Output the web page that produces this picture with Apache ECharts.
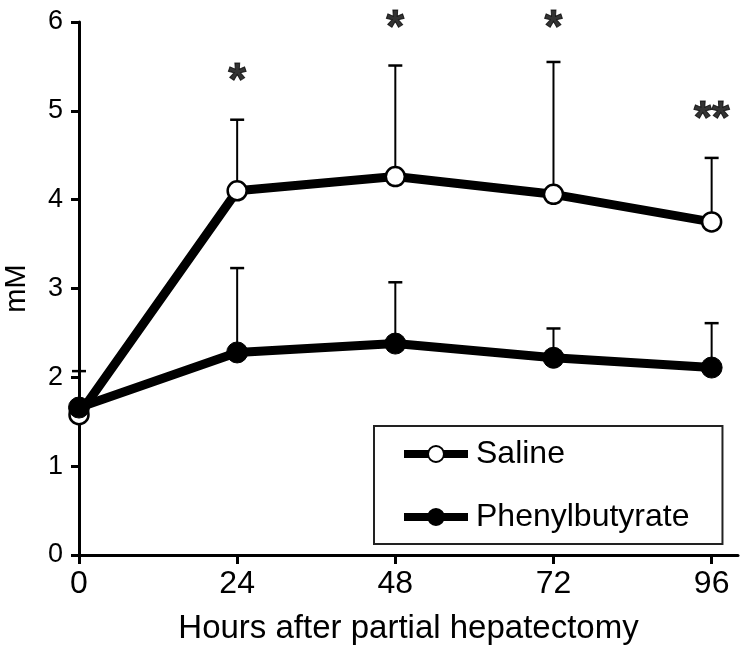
<!DOCTYPE html>
<html><head><meta charset="utf-8">
<script src="https://cdn.jsdelivr.net/npm/echarts@6/dist/echarts.min.js"></script>
<style>html,body{margin:0;padding:0;background:#fff}#c{width:741px;height:650px}</style>
</head><body><div id="c"></div>
<script>
const hours = [0, 24, 48, 72, 96];
const salineMean = [1.58, 4.10, 4.26, 4.06, 3.75];
const salineUpper = [2.07, 4.90, 5.51, 5.55, 4.47];
const phenylMean = [1.66, 2.28, 2.38, 2.22, 2.11];
const phenylUpper = [1.70, 3.23, 3.07, 2.55, 2.61];
const sigHours = [24, 48, 72, 96];
const sigY = [5.32, 5.92, 5.92, 4.89];
const sigText = ['*', '*', '*', '**'];
const xTicks = [0, 24, 48, 72, 96];

const FONT = 'Liberation Sans, Arial, sans-serif';
const chart = echarts.init(document.getElementById('c'));

function errSeries(name, mean, upper) {
  return {
    type: 'custom', name: name + ' err', z: 1, silent: true, clip: false,
    data: hours.map((h, i) => [h, mean[i], upper[i]]),
    renderItem: function (params, api) {
      const p0 = api.coord([api.value(0), api.value(1)]);
      const p1 = api.coord([api.value(0), api.value(2)]);
      const cw = 7;
      return { type: 'group', children: [
        { type: 'line', shape: { x1: p0[0], y1: p0[1], x2: p1[0], y2: p1[1] }, style: { stroke: '#000', lineWidth: 2 } },
        { type: 'line', shape: { x1: p1[0] - cw, y1: p1[1], x2: p1[0] + cw, y2: p1[1] }, style: { stroke: '#000', lineWidth: 2.5 } }
      ]};
    }
  };
}

chart.setOption({
  animation: false,
  backgroundColor: '#fff',
  grid: { left: 79, right: 3, top: 22, bottom: 95, containLabel: false, outerBoundsMode: 'none' },
  xAxis: {
    type: 'value', min: 0, max: 100, interval: 24,
    name: 'Hours after partial hepatectomy', nameLocation: 'middle', nameGap: 57,
    nameTextStyle: { fontFamily: FONT, fontSize: 33, color: '#000', verticalAlign: 'top' },
    axisLine: { show: true, lineStyle: { color: '#000', width: 3 } },
    axisTick: { show: true, length: 9, lineStyle: { color: '#000', width: 3 }, customValues: xTicks },
    axisLabel: { fontFamily: FONT, fontSize: 32, color: '#000', margin: 13, customValues: xTicks },
    splitLine: { show: false }
  },
  yAxis: {
    type: 'value', min: 0, max: 6, interval: 1,
    name: 'mM', nameLocation: 'middle', nameGap: 48,
    nameTextStyle: { fontFamily: FONT, fontSize: 29, color: '#000' },
    axisLine: { show: true, lineStyle: { color: '#000', width: 3 } },
    axisTick: { show: true, length: 8, lineStyle: { color: '#000', width: 3 } },
    axisLabel: { fontFamily: FONT, fontSize: 27, color: '#000', margin: 16 },
    splitLine: { show: false }
  },
  legend: {
    orient: 'vertical', left: 374, top: 426,
    padding: [12, 33, 11, 26],
    itemGap: 31,
    itemWidth: 64, itemHeight: 20,
    borderColor: '#222', borderWidth: 2,
    lineStyle: { width: 8, color: '#000' },
    textStyle: { fontFamily: FONT, fontSize: 32, color: '#000', padding: [0, 0, 0, 3] },
    data: ['Saline', 'Phenylbutyrate']
  },
  series: [
    errSeries('Saline', salineMean, salineUpper),
    errSeries('Phenylbutyrate', phenylMean, phenylUpper),
    {
      name: 'Saline', type: 'line', z: 3,
      data: hours.map((h, i) => [h, salineMean[i]]),
      symbol: 'circle', symbolSize: 19,
      lineStyle: { color: '#000', width: 9 },
      itemStyle: { color: '#fff', borderColor: '#000', borderWidth: 2.5 }
    },
    {
      name: 'Phenylbutyrate', type: 'line', z: 4,
      data: hours.map((h, i) => [h, phenylMean[i]]),
      symbol: 'circle', symbolSize: 21,
      lineStyle: { color: '#000', width: 9 },
      itemStyle: { color: '#000', borderColor: '#000', borderWidth: 1 }
    },
    {
      name: 'sig', type: 'scatter', z: 5, silent: true, clip: false,
      symbolSize: 0,
      data: sigHours.map((h, i) => [h, sigY[i], sigText[i]]),
      label: {
        show: true, position: 'inside',
        formatter: p => p.data[2],
        fontFamily: FONT, fontSize: 46, fontWeight: 'bold', color: '#000',
        textBorderColor: '#000', textBorderWidth: 1
      }
    }
  ]
});
</script></body></html>
